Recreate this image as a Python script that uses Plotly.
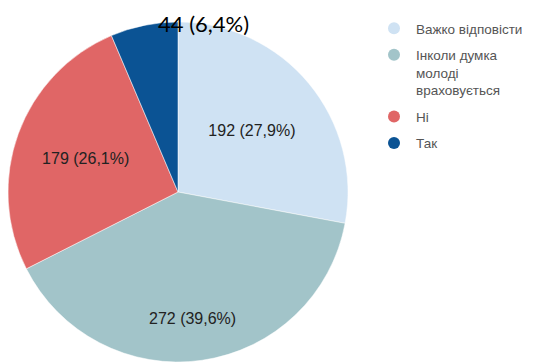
import plotly.graph_objects as go

# Survey answers, in the order they go round the pie (clockwise from 12 o'clock)
categories = ["Важко відповісти", "Інколи думка молоді враховується", "Ні", "Так"]
legend_names = ["Важко відповісти", "Інколи думка<br>молоді<br>враховується", "Ні", "Так"]
counts = [192, 272, 179, 44]
colors = ["#cfe2f3", "#a2c4c9", "#e06666", "#0b5394"]

total = sum(counts)
shares = [c / total * 100 for c in counts]
labels = [f"{c} ({p:.1f}%)".replace(".", ",") for c, p in zip(counts, shares)]

W, H = 534, 362
label_font = dict(family="Liberation Sans, Arial, sans-serif", size=16, color="#222222")

# two labels sit at the slice centroids; the big slice's label is set lower,
# and the smallest slice's label goes above the pie
inside_text = [labels[0], "", labels[2], ""]

fig = go.Figure()
fig.add_trace(go.Pie(
    labels=categories,
    values=counts,
    text=inside_text,
    textinfo="text",
    textposition="inside",
    insidetextorientation="horizontal",
    textfont=label_font,
    marker=dict(colors=colors, line=dict(color="#ffffff", width=0.5)),
    sort=False,
    direction="clockwise",
    rotation=0,
    showlegend=False,
    hoverinfo="label+value+percent",
    domain=dict(x=[8 / W, 348 / W], y=[0, 340 / H]),
))

# legend entries with round swatches
for name, col in zip(legend_names, colors):
    fig.add_trace(go.Scatter(
        x=[None], y=[None], mode="markers", name=name, legendgroup=name,
        marker=dict(color=col, size=15, symbol="circle"),
        showlegend=True, hoverinfo="skip",
    ))

fig.add_annotation(
    text=labels[1], xref="paper", yref="paper",
    x=192 / W, y=1 - 318 / H, xanchor="center", yanchor="middle",
    showarrow=False, font=label_font,
)
fig.add_annotation(
    text=labels[3], xref="paper", yref="paper",
    x=203 / W, y=1 - 23 / H, xanchor="center", yanchor="middle",
    showarrow=False,
    font=dict(family="Lato, Carlito, sans-serif", size=22, color="#000000"),
)

fig.update_layout(
    width=W, height=H,
    margin=dict(l=0, r=0, t=0, b=0),
    paper_bgcolor="#ffffff", plot_bgcolor="#ffffff",
    xaxis=dict(visible=False), yaxis=dict(visible=False),
    legend=dict(
        x=372 / W, y=1 - 13 / H, xanchor="left", yanchor="top",
        font=dict(family="Liberation Sans, Arial, sans-serif", size=13.5, color="#555555"),
        valign="top", itemsizing="constant", itemwidth=34, tracegroupgap=6,
        bgcolor="rgba(0,0,0,0)",
    ),
)

fig.write_html("out.html")
